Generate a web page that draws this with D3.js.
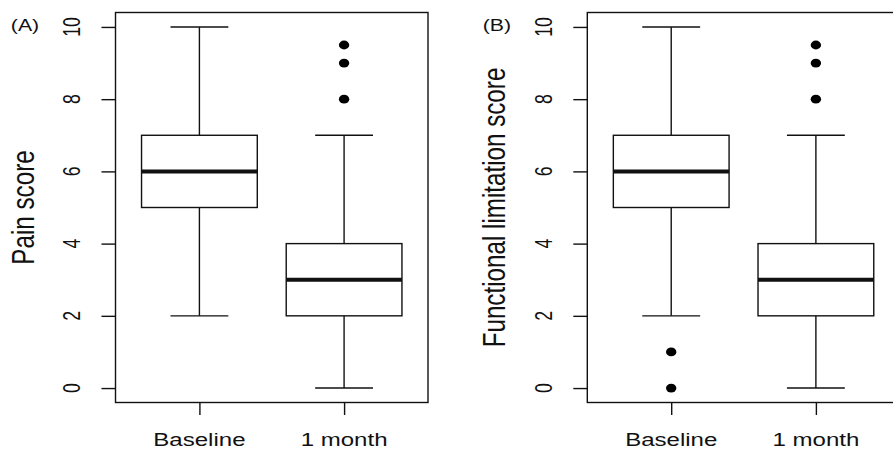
<!DOCTYPE html>
<html>
<head>
<meta charset="utf-8">
<script src="https://cdn.jsdelivr.net/npm/d3@7/dist/d3.min.js"></script>
<style>
  body { margin: 0; background: #fff; }
  text { font-family: "Liberation Sans", Arial, Helvetica, sans-serif; fill: #111; }
</style>
</head>
<body>
<script>
// groups on the x axis
var groups = ["Baseline", "1 month"];
var yTicks = [0, 2, 4, 6, 8, 10];

// (A) pain score, one value per group
var painLow = [2, 0];
var painQ1 = [5, 2];
var painMedian = [6, 3];
var painQ3 = [7, 4];
var painHigh = [10, 7];
var painOutliers = [[], [8, 9, 9.5]];

// (B) functional limitation score
var funcLow = [2, 0];
var funcQ1 = [5, 2];
var funcMedian = [6, 3];
var funcQ3 = [7, 4];
var funcHigh = [10, 7];
var funcOutliers = [[0, 1], [8, 9, 9.5]];

var W = 893, H = 449;
var stretch = 1.3; // the reference picture is squeezed wider than tall

var svg = d3.select("body").append("svg")
    .attr("width", W)
    .attr("height", H);

function panel(left, tag, title, low, q1, med, q3, high, outl) {
  var plotW = 312.5, top = 12.5, bottom = 402.5;

  var x = d3.scaleLinear().domain([0.42, 2.58]).range([left, left + plotW]);
  var y = d3.scaleLinear().domain([-0.4, 10.4]).range([bottom, top]);

  var g = svg.append("g");

  // frame
  g.append("rect")
      .attr("x", left).attr("y", top)
      .attr("width", plotW).attr("height", bottom - top)
      .attr("fill", "none").attr("stroke", "#111").attr("stroke-width", 1.4);

  // y axis ticks
  var ya = g.append("g")
      .attr("transform", "translate(" + left + ",0)")
      .call(d3.axisLeft(y).tickValues(yTicks).tickSize(14).tickFormat(""));
  ya.select(".domain").remove();
  ya.selectAll("line").attr("stroke", "#111").attr("stroke-width", 1.4);

  yTicks.forEach(function(t) {
    g.append("text")
        .attr("transform", "translate(" + (left - 35.5) + "," + y(t) + ") scale(" + stretch + ",1) rotate(-90)")
        .attr("text-anchor", "middle")
        .style("font-size", "17.7px")
        .text(t);
  });

  // x axis ticks
  var xa = g.append("g")
      .attr("transform", "translate(0," + bottom + ")")
      .call(d3.axisBottom(x).tickValues([1, 2]).tickSize(12.5).tickFormat(""));
  xa.select(".domain").remove();
  xa.selectAll("line").attr("stroke", "#111").attr("stroke-width", 1.4);

  groups.forEach(function(name, i) {
    g.append("text")
        .attr("transform", "translate(" + x(i + 1) + ",446) scale(" + stretch + ",1)")
        .attr("text-anchor", "middle")
        .style("font-size", "18.5px")
        .text(name);
  });

  // y title
  g.append("text")
      .attr("transform", "translate(" + (left - 82) + "," + ((top + bottom) / 2) + ") scale(1.26,1) rotate(-90)")
      .attr("text-anchor", "middle")
      .style("font-size", "24.2px")
      .text(title);

  // panel tag
  g.append("text")
      .attr("transform", "translate(" + (left - 90.5) + ",30.5) scale(1.25,1)")
      .attr("text-anchor", "middle")
      .style("font-size", "17px")
      .text(tag);

  // boxes
  groups.forEach(function(name, i) {
    var c = i + 1;
    var b = g.append("g").attr("stroke", "#111").attr("fill", "none");

    // whiskers
    b.append("line")
        .attr("x1", x(c)).attr("x2", x(c))
        .attr("y1", y(q3[i])).attr("y2", y(high[i]))
        .attr("stroke-width", 1.4);
    b.append("line")
        .attr("x1", x(c)).attr("x2", x(c))
        .attr("y1", y(q1[i])).attr("y2", y(low[i]))
        .attr("stroke-width", 1.4);
    // caps
    [low[i], high[i]].forEach(function(v) {
      b.append("line")
          .attr("x1", x(c - 0.2)).attr("x2", x(c + 0.2))
          .attr("y1", y(v)).attr("y2", y(v))
          .attr("stroke-width", 1.4);
    });
    // box
    b.append("rect")
        .attr("x", x(c - 0.4)).attr("y", y(q3[i]))
        .attr("width", x(c + 0.4) - x(c - 0.4))
        .attr("height", y(q1[i]) - y(q3[i]))
        .attr("fill", "#fff")
        .attr("stroke-width", 1.4);
    // median
    b.append("line")
        .attr("x1", x(c - 0.4)).attr("x2", x(c + 0.4))
        .attr("y1", y(med[i])).attr("y2", y(med[i]))
        .attr("stroke-width", 4);

    // outliers
    g.selectAll(".out" + i)
      .data(outl[i])
      .enter().append("ellipse")
        .attr("cx", x(c))
        .attr("cy", function(d) { return y(d); })
        .attr("rx", 5.2)
        .attr("ry", 4.4)
        .attr("fill", "#000");
  });
}

panel(115.5, "(A)", "Pain score", painLow, painQ1, painMedian, painQ3, painHigh, painOutliers);
panel(587.3, "(B)", "Functional limitation score", funcLow, funcQ1, funcMedian, funcQ3, funcHigh, funcOutliers);
</script>
</body>
</html>
